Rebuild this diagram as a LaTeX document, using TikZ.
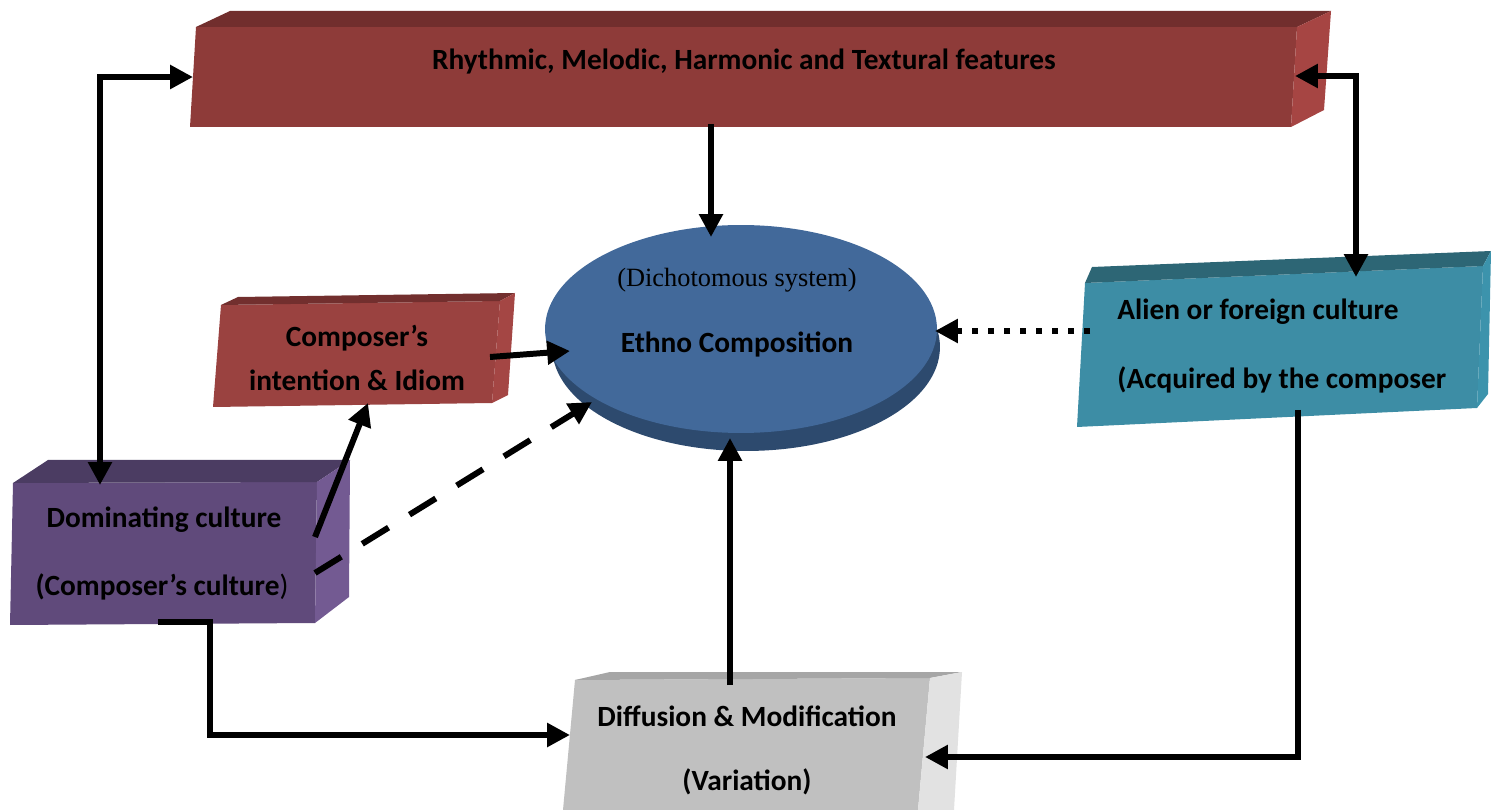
\documentclass[tikz,border=0pt]{standalone}
\usepackage{fontspec}
\setmainfont{Carlito}
\newfontfamily\timesf{Liberation Serif}
\usetikzlibrary{arrows.meta,shapes.geometric}
\definecolor{redF}{HTML}{8E3B39}
\definecolor{redT}{HTML}{712E2D}
\definecolor{redS}{HTML}{A64543}
\definecolor{red2F}{HTML}{9A4240}
\definecolor{red2T}{HTML}{722F2E}
\definecolor{red2S}{HTML}{A44644}
\definecolor{bluE}{HTML}{42699A}
\definecolor{bluD}{HTML}{2D4A6E}
\definecolor{tealF}{HTML}{3D8DA5}
\definecolor{tealT}{HTML}{2D6675}
\definecolor{tealS}{HTML}{3C93AC}
\definecolor{purF}{HTML}{604A7B}
\definecolor{purT}{HTML}{4B3C62}
\definecolor{purS}{HTML}{735A92}
\definecolor{grF}{HTML}{C0C0C0}
\definecolor{grT}{HTML}{A6A6A6}
\definecolor{grS}{HTML}{E2E2E2}
\begin{document}
\begin{tikzpicture}[x=0.02cm,y=-0.02cm,
  conn/.style={line width=3.4pt, draw=black},
  arr/.style={-{Triangle[length=13pt,width=13pt]}},
  dbl/.style={{Triangle[length=13pt,width=13pt]}-{Triangle[length=13pt,width=13pt]}},
  lbl/.style={font=\bfseries\fontsize{16.7}{20}\selectfont, inner sep=0pt},
  dotline/.style={dash pattern=on 3.4pt off 5.7pt},
  dashline/.style={dash pattern=on 17.6pt off 14pt}]
\useasboundingbox (0,0) rectangle (1491,810);

% top box
\fill[redF] (196,27) -- (1297,27) -- (1291,127) -- (190,127) -- cycle;
\fill[redT] (196,27) -- (230,11) -- (1331,11) -- (1297,27) -- cycle;
\fill[redS] (1297,27) -- (1331,11) -- (1324,110) -- (1291,127) -- cycle;
\node[lbl] (feat) at (744,62) {Rhythmic, Melodic, Harmonic and Textural features};

% composer's intention box
\fill[red2F] (221,305) -- (500,301) -- (492,403) -- (213,407) -- cycle;
\fill[red2T] (221,305) -- (238,297) -- (515,293) -- (500,301) -- cycle;
\fill[red2S] (500,301) -- (515,293) -- (508,395) -- (492,403) -- cycle;
\node[lbl] (int1) at (357,338) {Composer’s};
\node[lbl] (int2) at (357,380) {intention \& Idiom};

% ellipse
\node[ellipse, fill=bluD, minimum width=7.76cm, minimum height=4.16cm, inner sep=0pt] (ethsh) at (746,347) {};
\node[ellipse, fill=bluE, minimum width=7.84cm, minimum height=4.16cm, inner sep=0pt] (eth) at (741,329) {};
\node[font=\timesf\fontsize{15}{18}\selectfont, inner sep=0pt] (dich) at (737,280) {(Dichotomous system)};
\node[lbl] (ethno) at (737,344) {Ethno Composition};

% alien box
\fill[tealF] (1085,283) -- (1483,266) -- (1477,408) -- (1077,427) -- cycle;
\fill[tealT] (1085,283) -- (1092,267) -- (1491,251) -- (1483,266) -- cycle;
\fill[tealS] (1483,266) -- (1491,251) -- (1488,394) -- (1477,408) -- cycle;
\node[lbl, anchor=west] (al1) at (1117,312) {Alien or foreign culture};
\node[lbl, anchor=west] (al2) at (1117,380) {(Acquired by the composer};

% dominating box
\fill[purF] (13,483) -- (317,482) -- (315,623) -- (10,625) -- cycle;
\fill[purT] (13,483) -- (48,460) -- (350,460) -- (317,482) -- cycle;
\fill[purS] (317,482) -- (350,460) -- (349,597) -- (315,623) -- cycle;
\node[lbl] (dom1) at (164,520) {Dominating culture};
\node[lbl] (dom2) at (162,587) {(Composer’s culture{\mdseries)}};

% diffusion box
\fill[grF] (575,680) -- (930,678) -- (918,810) -- (563,810) -- cycle;
\fill[grT] (575,680) -- (610,672) -- (962,672) -- (930,678) -- cycle;
\fill[grS] (930,678) -- (962,672) -- (954,810) -- (918,810) -- cycle;
\node[lbl] (dif1) at (747,716) {Diffusion \& Modification};
\node[lbl] (dif2) at (747,782) {(Variation)};

% connection points
\coordinate (featB) at (711,124);
\coordinate (ethT) at (711,237);
\coordinate (featL) at (193,77);
\coordinate (domT) at (100,485);
\coordinate (featR) at (1295,76);
\coordinate (alT) at (1356,277);
\coordinate (intR) at (490,357);
\coordinate (ethL) at (570,351);
\coordinate (domR1) at (315,537);
\coordinate (intB) at (368,403);
\coordinate (domR2) at (315,573);
\coordinate (ethSW) at (592,402);
\coordinate (alL) at (1090,331);
\coordinate (ethR) at (935,331);
\coordinate (domB) at (158,622);
\coordinate (domBend) at (210,622);
\coordinate (difL) at (570,735);
\coordinate (alB) at (1298,410);
\coordinate (difR) at (925,757);
\coordinate (difT) at (730,685);
\coordinate (ethB) at (730,438);

% connectors
\draw[conn, arr] (featB) -- (ethT);
\draw[conn, dbl] (domT) |- (featL);
\draw[conn, dbl] (featR) -| (alT);
\draw[conn, arr] (intR) -- (ethL);
\draw[conn, arr] (domR1) -- (intB);
\draw[conn, arr, dashline] (domR2) -- (ethSW);
\draw[conn, arr, dotline] (alL) -- (ethR);
\draw[conn, arr] (domB) -- (domBend) |- (difL);
\draw[conn, arr] (alB) |- (difR);
\draw[conn, arr] (difT) -- (ethB);
\end{tikzpicture}
\end{document}
